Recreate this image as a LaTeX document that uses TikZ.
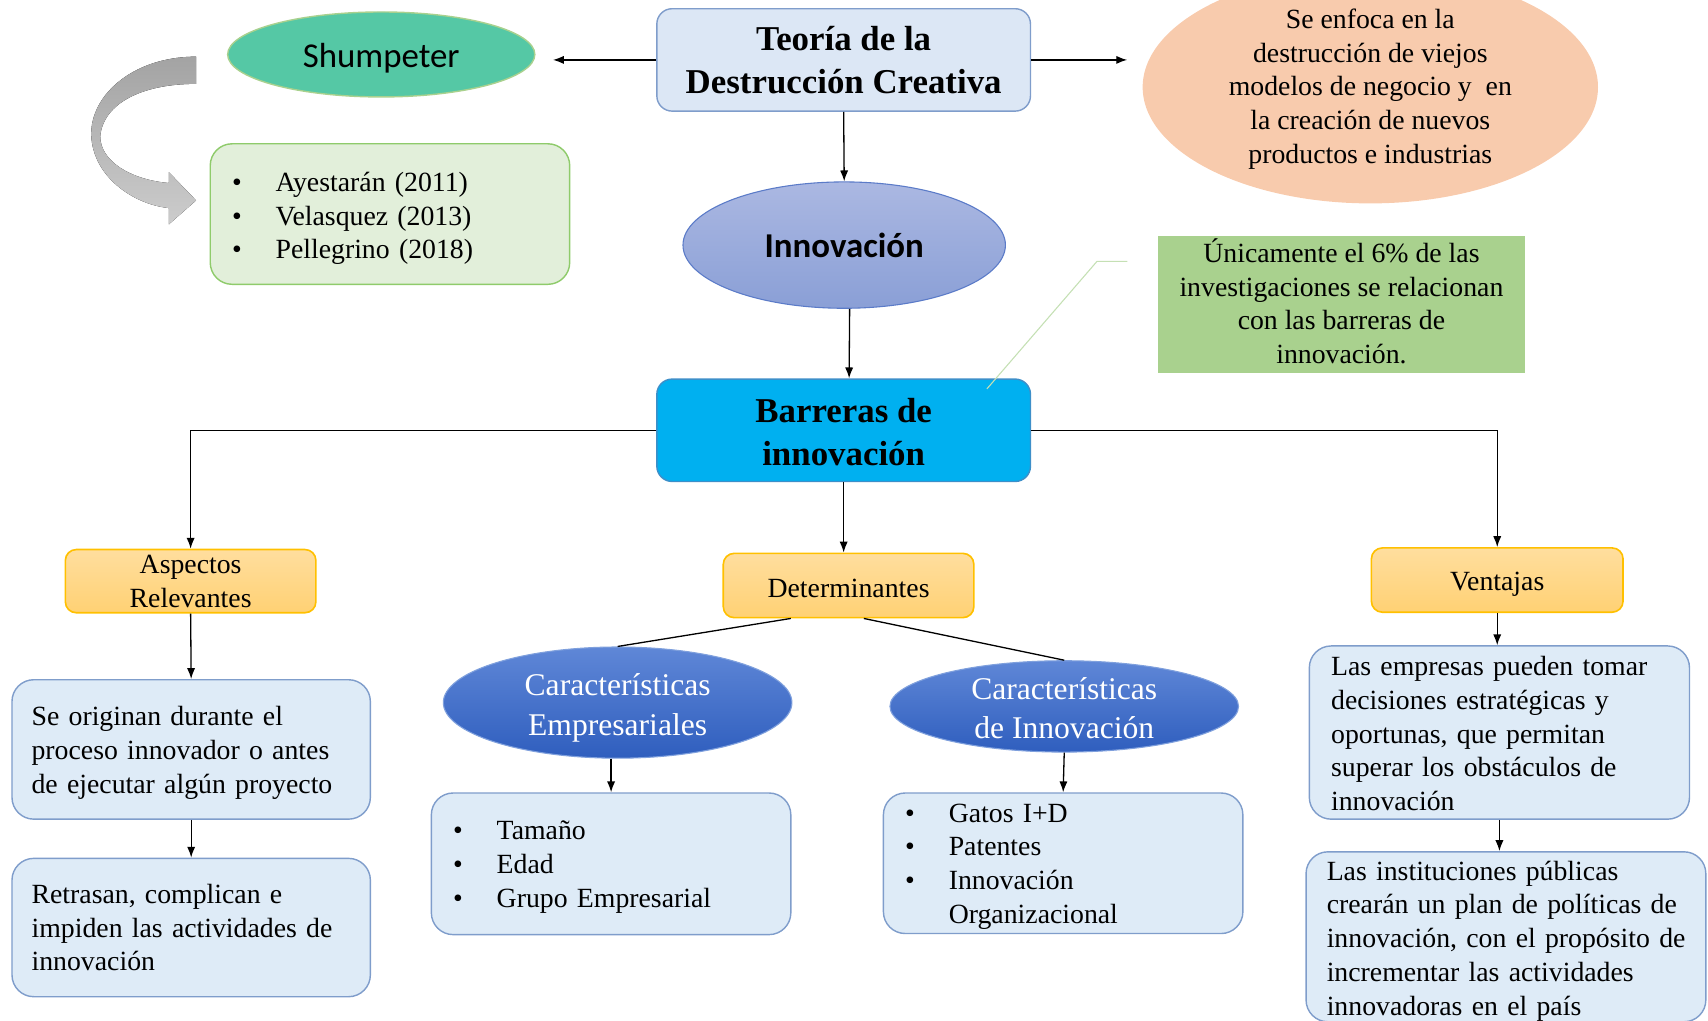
\documentclass[tikz,border=0pt]{standalone}
\usepackage{fontspec}
\setmainfont{Liberation Serif}
\newfontfamily\calib{Carlito}
\usetikzlibrary{shapes.geometric,arrows.meta,calc}

\definecolor{paleblue}{HTML}{DEEBF7}
\definecolor{paleedge}{HTML}{7F9DCB}
\definecolor{titlefill}{HTML}{DCE7F5}
\definecolor{cyanfill}{HTML}{00B0F0}
\definecolor{cyanedge}{HTML}{3D8FC9}
\definecolor{tealfill}{HTML}{55C8A5}
\definecolor{tealedge}{HTML}{A9D18E}
\definecolor{mintfill}{HTML}{E2EFDA}
\definecolor{mintedge}{HTML}{8FCB6B}
\definecolor{peach}{HTML}{F8CBAD}
\definecolor{lavtop}{HTML}{ABB8E2}
\definecolor{lavbot}{HTML}{8A9FD6}
\definecolor{lavedge}{HTML}{5B7BC8}
\definecolor{leaf}{HTML}{A9D18E}
\definecolor{callout}{HTML}{C5E0B4}
\definecolor{amtop}{HTML}{FFDE9E}
\definecolor{ambot}{HTML}{FFD174}
\definecolor{amedge}{HTML}{FFC000}
\definecolor{roytop}{HTML}{5F87D7}
\definecolor{roybot}{HTML}{2F5EBE}
\definecolor{royedge}{HTML}{7FA0DD}

\newcommand{\bul}[1]{\makebox[40pt][l]{\textbullet}#1}
\newcommand{\bodyfont}{\fontsize{25.5}{31}\selectfont}
% invisible struts used to nudge the text block inside a fixed-size shape
\newcommand{\hi}[1]{\rule{0pt}{#1}}
\newcommand{\lo}[1]{\rule[-#1]{0pt}{0pt}}

\begin{document}
\begin{tikzpicture}[x=1pt,y=-1pt,
  conn/.style={line width=1.2pt,-{Latex[length=10pt,width=7.5pt]}},
  link/.style={line width=1.2pt},
  headbox/.style={rounded corners=14pt,line width=1.3pt,inner sep=0pt,
    minimum width=343pt,minimum height=94pt,align=center,
    font=\fontsize{32}{40}\selectfont\bfseries},
  notebox/.style={draw=paleedge,fill=paleblue,rounded corners=20pt,line width=1.3pt,
    inner ysep=0pt,align=left,font=\bodyfont},
  tagbox/.style={draw=amedge,top color=amtop,bottom color=ambot,rounded corners=10pt,
    line width=1.5pt,inner sep=0pt,minimum width=230pt,minimum height=58pt,
    align=center,font=\bodyfont},
  royal/.style={ellipse,draw=royedge,top color=roytop,bottom color=roybot,line width=1pt,
    inner sep=0pt,text=white,align=center,font=\fontsize{29}{36}\selectfont}
]
\useasboundingbox (0,0) rectangle (1568,937);

% top row
\node[headbox,draw=paleedge,fill=titlefill] (teo) at (774.5,55)
  {Teoría de la\\Destrucción Creativa};
\node[ellipse,draw=tealedge,fill=tealfill,line width=1.3pt,inner sep=0pt,
  minimum width=282pt,minimum height=78pt,font=\calib\fontsize{32}{38}\selectfont]
  (shu) at (350,50) {\hi{28.5pt}Shumpeter};
\node[ellipse,fill=peach,inner sep=0pt,minimum width=418pt,minimum height=164pt,
  align=center,font=\bodyfont] (ora) at (1258,80)
  {\hi{21.5pt}Se enfoca en la\\destrucción de viejos\\modelos de negocio y\ \ en\\la creación de nuevos\\productos e industrias};

% authors list and curved arrow
\node[draw=mintedge,fill=mintfill,rounded corners=20pt,line width=1.3pt,inner xsep=20pt,
  inner ysep=0pt,text width=290pt,minimum height=129pt,align=left,font=\bodyfont]
  (ays) at (358,196.5)
  {\bul{\hi{26pt}Ayestarán (2011)}\\\bul{Velasquez (2013)}\\\bul{Pellegrino (2018)}};
\fill[top color=gray!72,bottom color=gray!40]
  (180,52) .. controls (120,52) and (80,90) .. (84,128)
  .. controls (88,165) and (125,188) .. (155,191)
  -- (155,206) -- (180,184) -- (155,158) -- (155,168)
  .. controls (120,165) and (92,148) .. (92,125)
  .. controls (95,95) and (130,77) .. (180,77) -- cycle;

% innovation
\node[ellipse,draw=lavedge,top color=lavtop,bottom color=lavbot,line width=1pt,inner sep=0pt,
  minimum width=296pt,minimum height=116pt,font=\calib\bfseries\fontsize{32}{38}\selectfont]
  (inn) at (775,225) {Innovación};
\node[fill=leaf,inner sep=0pt,minimum width=337pt,minimum height=125pt,align=center,
  font=\bodyfont] (uni) at (1231.5,279.5)
  {Únicamente el 6\% de las\\investigaciones se relacionan\\con las barreras de\\innovación.\lo{6pt}};

% barriers
\node[headbox,draw=cyanedge,fill=cyanfill] (bar) at (774.5,395)
  {\hi{25.5pt}Barreras de\\innovación};

% second level
\node[tagbox] (asp) at (175,533.5) {Aspectos\\Relevantes};
\node[tagbox,minimum height=59pt] (det) at (779,537.5) {\hi{21.5pt}Determinantes};
\node[tagbox,minimum width=231pt,minimum height=59pt] (ven) at (1374.5,532.5) {\hi{25pt}Ventajas};

% left column
\node[notebox,inner xsep=18pt,text width=293pt,minimum height=128pt] (ori) at (175.5,688)
  {\mbox{\hi{23.5pt}Se originan durante el}\\\mbox{proceso innovador o antes}\\\mbox{de ejecutar algún proyecto}};
\node[notebox,inner xsep=18pt,text width=293pt,minimum height=127pt] (ret) at (175.5,851.5)
  {\mbox{Retrasan, complican e}\\\mbox{impiden las actividades de}\\\mbox{innovación}};

% middle column
\node[royal,minimum width=320pt,minimum height=96pt] (ce) at (567,645)
  {\hi{30pt}Características\\Empresariales};
\node[royal,minimum width=320pt,minimum height=83pt] (ci) at (977,648.5)
  {\hi{23pt}Características\\de Innovación};
\node[notebox,inner xsep=20pt,text width=290pt,minimum height=130pt] (tam) at (561,793)
  {\bul{\hi{23pt}Tamaño}\\\bul{Edad}\\\bul{Grupo Empresarial}};
\node[notebox,inner xsep=20pt,text width=290pt,minimum height=129pt] (gat) at (976,792.5)
  {\bul{\hi{23pt}Gatos I+D}\\\bul{Patentes}\\\bul{Innovación}\\\hspace*{40pt}Organizacional};

% right column
\node[notebox,inner xsep=20pt,text width=309pt,minimum height=159pt] (emp) at (1376.5,672.5)
  {\mbox{\hi{19.5pt}Las empresas pueden tomar}\\\mbox{decisiones estratégicas y}\\\mbox{oportunas, que permitan}\\\mbox{superar los obstáculos de}\\\mbox{innovación}};
\node[notebox,inner xsep=19pt,text width=329pt,minimum height=156pt] (ins) at (1382.5,860)
  {\mbox{\hi{25.5pt}Las instituciones públicas}\\\mbox{crearán un plan de políticas de}\\\mbox{innovación, con el propósito de}\\\mbox{incrementar las actividades}\\\mbox{innovadoras en el país}};

% connectors
\draw[conn,shorten >=16pt] (teo.west) -- (teo.west -| shu.east);
\draw[conn,shorten >=14pt] (teo.east) -- (teo.east -| ora.west);
\draw[conn] (teo.south) -- (inn.north);
\draw[conn] ([xshift=5pt]inn.south) -- ([xshift=5pt]bar.north);
\draw[conn] (bar.west) -| (asp.north);
\draw[conn] (bar.east) -| (ven.north);
\draw[conn] (bar.south) -- (bar.south |- det.north);
\draw[conn] (asp.south) -- (ori.north);
\draw[conn] (ori.south) -- (ret.north);
\draw[link] ([xshift=-53pt]det.south) -- (ce.north);
\draw[link] ([xshift=14pt]det.south) -- (ci.north);
\draw[conn] (tam.north |- ce.south) -- (tam.north);
\draw[conn] (ci.south) -- (gat.north);
\draw[conn] (ven.south) -- (ven.south |- emp.north);
\draw[conn] (emp.south) -- (emp.south |- ins.north);

% callout leader from the note to the barriers box
\coordinate (lead) at (1035,240);
\coordinate (bend) at (1007,240);
\coordinate (foot) at (906,357);
\draw[callout,line width=1pt] (lead) -- (bend) -- (foot);
\end{tikzpicture}
\end{document}
